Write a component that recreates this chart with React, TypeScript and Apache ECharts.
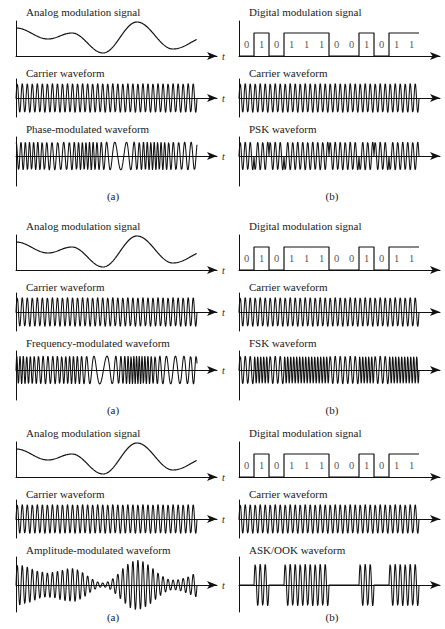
import React, { useEffect, useRef } from "react";
import * as echarts from "echarts";

// ---- data ----
const BITS = [0, 1, 0, 1, 1, 1, 0, 0, 1, 0, 1, 1];
// analog modulation signal: extrema (time in bit units, height in px above axis)
const ANALOG_T = [0, 2.12, 3.71, 5.77, 8.02, 10.41, 12.8];
const ANALOG_V = [28, 17, 23, 3, 34, 7, 20];
const CARRIER_CYCLES = 3; // cycles per bit period
const FSK_CYCLES = [3, 5]; // cycles per bit for 0 / 1
const FM_DEV = 2.3; // cycles per unit deviation
const PM_DEV = -1.29;
const GROUP_TOP = [0, 214, 421];
const LEFT_TITLES = [
  ["Analog modulation signal", "Carrier waveform", "Phase-modulated waveform"],
  ["Analog modulation signal", "Carrier waveform", "Frequency-modulated waveform"],
  ["Analog modulation signal", "Carrier waveform", "Amplitude-modulated waveform"],
];
const RIGHT_TITLES = [
  ["Digital modulation signal", "Carrier waveform", "PSK waveform"],
  ["Digital modulation signal", "Carrier waveform", "FSK waveform"],
  ["Digital modulation signal", "Carrier waveform", "ASK/OOK waveform"],
];
const CAPTIONS = ["(a)", "(b)"];
const SAMPLES_PER_UNIT = 100;
const T_END = 12;

const INK = "#111111";
const FONT = '"Liberation Serif", "DejaVu Serif", serif';

function analogAt(t: number): number {
  for (let i = 0; i < ANALOG_T.length - 1; i++) {
    if (t <= ANALOG_T[i + 1]) {
      const u = (t - ANALOG_T[i]) / (ANALOG_T[i + 1] - ANALOG_T[i]);
      return ANALOG_V[i] + (ANALOG_V[i + 1] - ANALOG_V[i]) * (1 - Math.cos(Math.PI * u)) / 2;
    }
  }
  return ANALOG_V[ANALOG_V.length - 1];
}
const vMin = Math.min(...ANALOG_V.slice(0, -1));
const vMax = Math.max(...ANALOG_V);
const msg = (t: number) => (analogAt(t) - (vMin + vMax) / 2) / ((vMax - vMin) / 2);

const times: number[] = [];
for (let k = 0; k <= T_END * SAMPLES_PER_UNIT; k++) times.push(k / SAMPLES_PER_UNIT);
const bitAt = (t: number) => BITS[Math.min(BITS.length - 1, Math.max(0, Math.floor(t)))];

function analogData() {
  return times.map((t) => [t, analogAt(t)]);
}
function carrierData() {
  return times.map((t) => [t, Math.sin(2 * Math.PI * CARRIER_CYCLES * t)]);
}
function pmData() {
  return times.map((t) => [t, Math.sin(2 * Math.PI * CARRIER_CYCLES * t + 2 * Math.PI * PM_DEV * msg(t))]);
}
function fmData() {
  let ph = 0;
  const dt = 1 / SAMPLES_PER_UNIT;
  return times.map((t, i) => {
    if (i > 0) ph += 2 * Math.PI * (CARRIER_CYCLES + 0.3 + FM_DEV * msg(t - dt / 2)) * dt;
    return [t, Math.sin(ph)];
  });
}
function amData() {
  return times.map((t) => [t, (analogAt(t) / vMax) * Math.sin(2 * Math.PI * CARRIER_CYCLES * t)]);
}
function pskData() {
  return times.map((t) => [t, Math.sin(2 * Math.PI * CARRIER_CYCLES * t + Math.PI * bitAt(t))]);
}
function fskData() {
  let ph = 0;
  const dt = 1 / SAMPLES_PER_UNIT;
  return times.map((t, i) => {
    if (i > 0) ph += 2 * Math.PI * FSK_CYCLES[bitAt(t - dt / 2)] * dt;
    return [t, Math.sin(ph)];
  });
}
function askData() {
  return times.map((t) => [t, bitAt(t - 1e-9) ? Math.sin(2 * Math.PI * CARRIER_CYCLES * t) : 0]);
}

function buildOption() {
  const grids: any[] = [];
  const xAxes: any[] = [];
  const yAxes: any[] = [];
  const series: any[] = [];
  const graphics: any[] = [];
  const axisLineStyle = { color: INK, width: 1 };

  function addPlot(left: number, dataWidth: number, top: number, above: number, below: number, unit: number, withT: boolean, base0: boolean) {
    const idx = grids.length;
    const width = 201;
    grids.push({ left, top, width, height: above + below, containLabel: false });
    xAxes.push({
      gridIndex: idx,
      type: "value",
      min: 0,
      max: (T_END * width) / dataWidth,
      axisLine: { show: true, onZero: true, symbol: ["none", "arrow"], symbolSize: [6, 10], lineStyle: axisLineStyle },
      axisTick: { show: false },
      axisLabel: { show: false },
      splitLine: { show: false },
      name: withT ? "t" : "",
      nameLocation: "end",
      nameGap: 5,
      nameTextStyle: { fontFamily: FONT, fontStyle: "italic", fontSize: 10, color: "#222", verticalAlign: "middle" },
    });
    yAxes.push({
      gridIndex: idx,
      type: "value",
      min: base0 ? 0 : -below / unit,
      max: base0 ? (above + below) / unit : above / unit,
      axisLine: { show: true, onZero: false, lineStyle: axisLineStyle },
      axisTick: { show: false },
      axisLabel: { show: false },
      splitLine: { show: false },
    });
    return idx;
  }
  function addLine(idx: number, data: any[], extra: any = {}) {
    series.push({
      type: "line",
      xAxisIndex: idx,
      yAxisIndex: idx,
      data,
      showSymbol: false,
      symbol: "none",
      silent: true,
      lineStyle: { width: 1.05, color: INK },
      ...extra,
    });
  }
  function addText(x: number, y: number, text: string, align = "left", size = 11) {
    graphics.push({
      type: "text",
      x,
      y,
      silent: true,
      style: {
        text,
        fill: "#1a1a1a",
        font: `${size}px ${FONT}`,
        textAlign: align,
        align,
        textVerticalAlign: "middle",
        verticalAlign: "middle",
      },
    });
  }

  const LX = 16, LW = 181, RX = 239, RW = 180;
  GROUP_TOP.forEach((g, gi) => {
    const ty = [12, 73, 129];
    ty.forEach((y, k) => {
      addText(26, g + y, LEFT_TITLES[gi][k]);
      addText(249, g + y, RIGHT_TITLES[gi][k]);
    });
    addText(113, g + 196, CAPTIONS[0], "center");
    addText(332, g + 196, CAPTIONS[1], "center");

    // row 1: analog / digital
    const a = addPlot(LX, LW, g + 21, 35, 0, 1, true, true);
    addLine(a, analogData(), { lineStyle: { width: 1.2, color: INK } });
    const d = addPlot(RX, RW, g + 21, 35, 0, 23, false, true);
    addLine(d, BITS.map((b, i) => [i, b]).concat([[BITS.length, BITS[BITS.length - 1]]]), {
      step: "end",
      lineStyle: { width: 1.2, color: INK },
    });
    series.push({
      type: "scatter",
      xAxisIndex: d,
      yAxisIndex: d,
      symbolSize: 0,
      silent: true,
      data: BITS.map((b, i) => [i + 0.5, 0.5, b]),
      label: {
        show: true,
        position: "inside",
        formatter: (p: any) => String(p.value[2]),
        fontFamily: FONT,
        fontSize: 10.5,
        color: "#1a1a1a",
      },
    });

    // row 2: carriers
    const c1 = addPlot(LX, LW, g + 79, 19, 19, 14.5, true, false);
    addLine(c1, carrierData());
    const c2 = addPlot(RX, RW, g + 79, 19, 19, 14.5, false, false);
    addLine(c2, carrierData());

    // row 3: modulated
    if (gi < 2) {
      const m1 = addPlot(LX, LW, g + 137, 19, 30, 14, true, false);
      addLine(m1, gi === 0 ? pmData() : fmData());
      const m2 = addPlot(RX, RW, g + 137, 19, 30, 14, false, false);
      addLine(m2, gi === 0 ? pskData() : fskData());
    } else {
      const m1 = addPlot(LX, LW, g + 136, 28, 27, 25, true, false);
      addLine(m1, amData());
      const m2 = addPlot(RX, RW, g + 136, 28, 27, 21, false, false);
      addLine(m2, askData());
    }
  });

  return {
    animation: false,
    backgroundColor: "#ffffff",
    grid: grids,
    xAxis: xAxes,
    yAxis: yAxes,
    series,
    graphic: graphics,
  };
}

export default function App() {
  const ref = useRef<HTMLDivElement>(null);
  useEffect(() => {
    if (!ref.current) return;
    const chart = echarts.init(ref.current, null, { renderer: "svg", width: 445, height: 629 });
    chart.setOption(buildOption() as any);
    return () => chart.dispose();
  }, []);
  return (
    <div
      ref={ref}
      style={{ position: "absolute", left: 0, top: 0, width: 445, height: 629, background: "#fff" }}
    />
  );
}
